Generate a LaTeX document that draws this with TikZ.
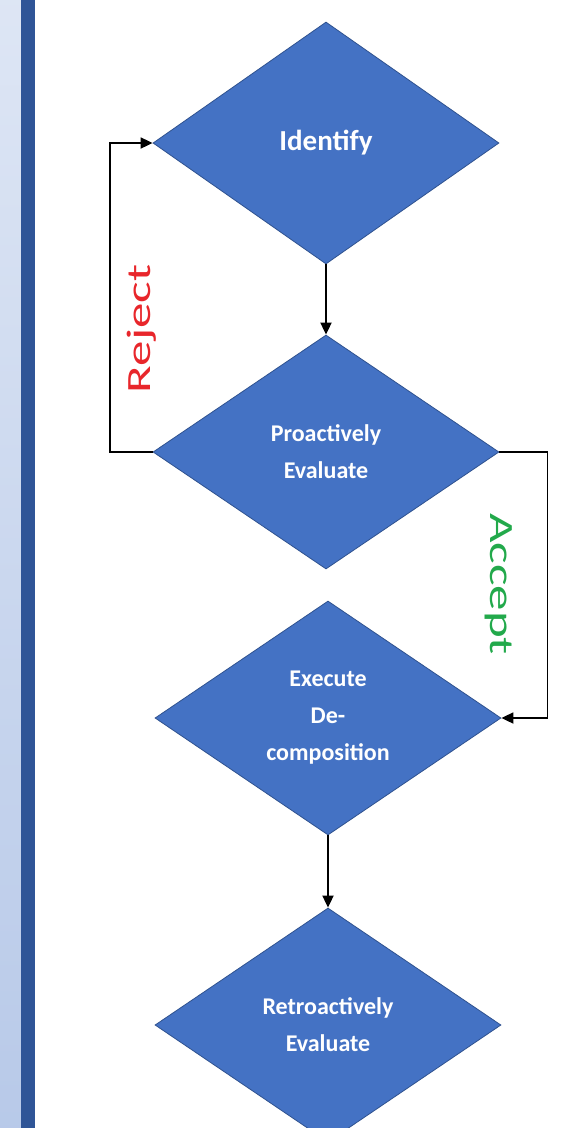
\documentclass[tikz,border=0pt]{standalone}
\usepackage{fontspec}
\setmainfont{Carlito}
\usetikzlibrary{shapes.geometric,arrows.meta}
\definecolor{stepblue}{HTML}{4472C4}
\definecolor{stepedge}{HTML}{2F528F}
\definecolor{barblue}{HTML}{2F5597}
\definecolor{rejectred}{HTML}{E8262B}
\definecolor{acceptgreen}{HTML}{22A94B}

\begin{document}
\begin{tikzpicture}[x=1pt, y=-1pt,
    decision/.style={diamond, fill=stepblue, draw=stepedge, line width=0.8pt, minimum width=346pt, minimum height=234pt, inner sep=0pt, text=white, align=center, font=\bfseries\fontsize{24}{37}\selectfont},
    flow/.style={line width=1.8pt, -{Triangle[length=12pt, width=11pt]}},
    verdict/.style={font=\fontsize{34}{40}\selectfont, inner sep=0pt}]

    \useasboundingbox (0,0) rectangle (572,1128);
    \shade[top color=stepblue!18!white, bottom color=stepblue!38!white] (0,0) rectangle (21,1128);
    \fill[barblue] (21,0) rectangle (35,1128);

    \node[decision, minimum height=242pt, font=\bfseries\fontsize{29}{36}\selectfont] (identify) at (326,143) {Identify};
    \node[decision] (proactive) at (326,452) {Proactively\\Evaluate};
    \node[decision] (execute) at (328,718) {Execute\\De-\\composition};
    \node[decision] (retro) at (328,1025) {Retroactively\\Evaluate};

    \draw[flow] (identify) -- (proactive);
    \draw[flow] (proactive.west) -- ++(-43,0) |- (identify.west);
    \draw[flow] (proactive.east) -- ++(48,0) |- (execute.east);
    \draw[flow] (execute) -- (retro);

    \node[verdict, text=rejectred, rotate=90] (reject) at (142,329) {\scalebox{1.5}[1]{Reject}};
    \node[verdict, text=acceptgreen, rotate=-90] (accept) at (499,584) {\scalebox{1.5}[1]{Accept}};
\end{tikzpicture}
\end{document}
